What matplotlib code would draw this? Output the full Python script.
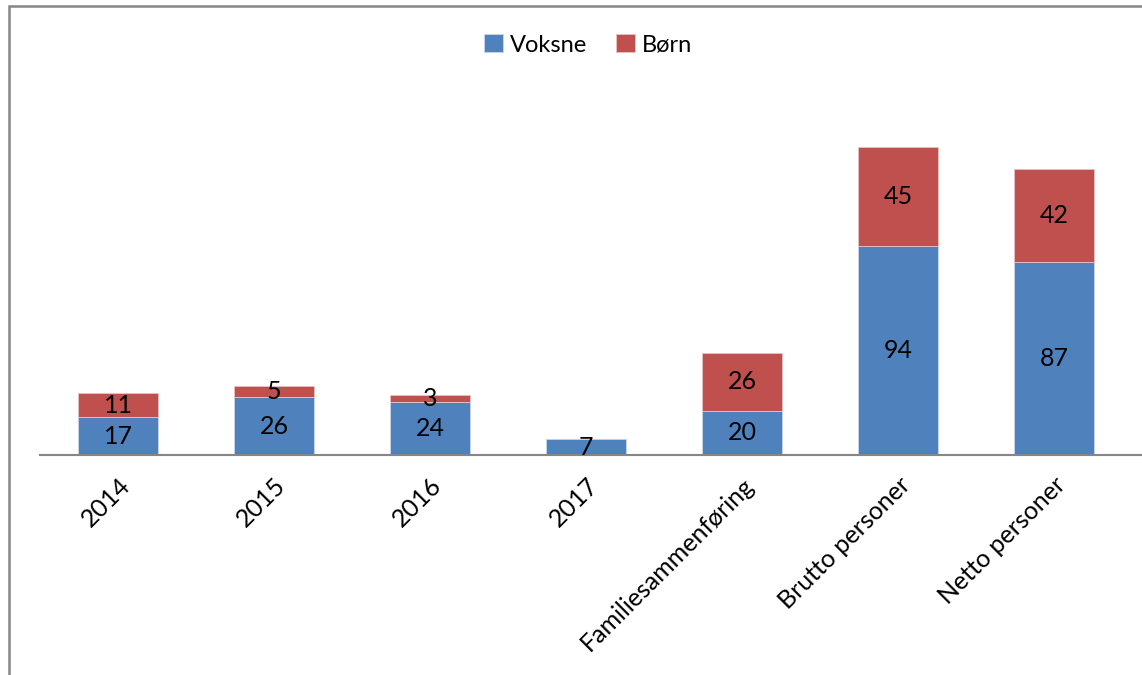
import matplotlib.pyplot as plt
from matplotlib.patches import Rectangle
import numpy as np

categories = ['2014', '2015', '2016', '2017', 'Familiesammenføring', 'Brutto personer', 'Netto personer']
voksne = [17, 26, 24, 7, 20, 94, 87]
born = [11, 5, 3, 0, 26, 45, 42]

plt.rcParams['font.family'] = ['Lato', 'DejaVu Sans']

W, H = 1142, 675
fig = plt.figure(figsize=(W / 100, H / 100), dpi=100)
ax = fig.add_axes([40 / W, 1 - 455 / H, (1132 - 40) / W, (455 - 100) / H])

x = np.arange(len(categories))
blue = '#4F81BD'
red = '#C0504D'
b1 = ax.bar(x, voksne, width=0.51, color=blue, edgecolor='#c9d6ea', linewidth=0.6, label='Voksne')
b2 = ax.bar(x, born, width=0.51, bottom=voksne, color=red, edgecolor='#e6c4c3', linewidth=0.6, label='Børn')

for i in range(len(categories)):
    ax.text(x[i], voksne[i] / 2, str(voksne[i]), ha='center', va='center', fontsize=18, color='black')
    if born[i] > 0:
        ax.text(x[i], voksne[i] + born[i] / 2, str(born[i]), ha='center', va='center', fontsize=18, color='black')

ax.set_xlim(-0.5, len(categories) - 0.5)
ax.set_ylim(0, 160)
ax.set_xticks(x)
ax.set_xticklabels(categories, rotation=45, ha='right', rotation_mode='anchor', fontsize=18)
ax.tick_params(axis='x', length=0, pad=13)
ax.set_yticks([])
for s in ['left', 'right', 'top']:
    ax.spines[s].set_visible(False)
ax.spines['bottom'].set_color('#868686')
ax.spines['bottom'].set_linewidth(1.5)
ax.spines['bottom'].set_bounds(-0.5, len(categories) - 0.4)

fig.legend(handles=[b1, b2], loc='center', bbox_to_anchor=(588 / W, 1 - 45 / H), ncol=2,
           frameon=False, fontsize=17, handlelength=0.8, handleheight=0.8, handletextpad=0.3,
           columnspacing=1.2)

# chart frame
fig.patches.append(Rectangle((9 / W, -0.1), 1.2, 1.1 - 6 / H, transform=fig.transFigure,
                             fill=False, edgecolor='#868686', linewidth=1.8))

fig.savefig('out.png', dpi=100)
